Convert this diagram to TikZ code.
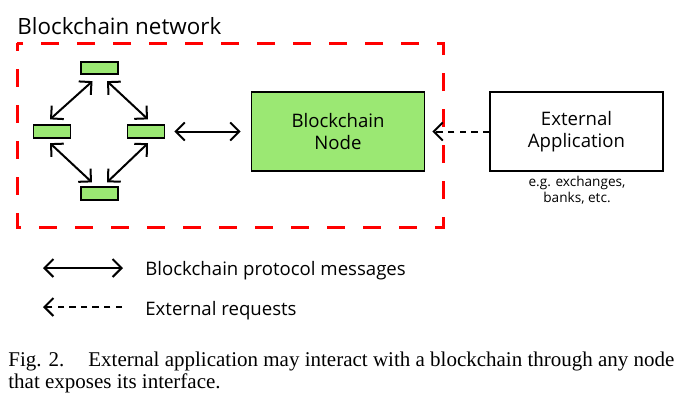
\documentclass[tikz,border=0pt]{standalone}
\usepackage{fontspec}
\setmainfont{Liberation Serif}
\newfontfamily\diagfont{Open Sans}
\usetikzlibrary{arrows.meta,calc}
\definecolor{chaingreen}{RGB}{155,232,115}
\definecolor{framered}{RGB}{255,0,0}
\tikzset{
  peer/.style={draw, fill=chaingreen, line width=0.85pt, minimum width=18.5pt, minimum height=6.3pt, inner sep=0pt},
  bigbox/.style={draw, line width=0.85pt, minimum width=86.5pt, minimum height=39.5pt, align=center, inner sep=0pt, font=\diagfont\fontsize{9.3}{11.2}\selectfont},
  netframe/.style={draw=framered, line width=1.5pt, dash pattern=on 9pt off 9pt, dash phase=5pt},
  msg/.style={line width=1pt, {Straight Barb[length=4.5pt,width=9pt]}-{Straight Barb[length=4.5pt,width=9pt]}},
  req/.style={line width=1pt, dash pattern=on 3.2pt off 2.6pt, -{Straight Barb[length=4.5pt,width=9pt]}},
  legendtext/.style={anchor=base west, inner sep=0pt, font=\diagfont\fontsize{9.3}{11}\selectfont},
  captionline/.style={anchor=base west, inner sep=0pt, font=\fontsize{10.5}{12.5}\selectfont}
}
\begin{document}
\begin{tikzpicture}[x=0.5pt, y=-0.5pt]
\useasboundingbox (0,0) rectangle (691,402);

% Network frame and its title
\node[anchor=base west, inner sep=0pt, font=\diagfont\fontsize{11.2}{13}\selectfont] (nettitle) at (17,34) {Blockchain network};
\draw[netframe] (17,43) rectangle (443,227);

% Peers of the network
\node[peer] (ptop) at (99.5,68) {};
\node[peer] (pleft) at (52,131.5) {};
\node[peer] (pright) at (146,131.5) {};
\node[peer] (pbottom) at (99.5,193.5) {};
\draw[msg] ($(ptop.south)+(-7,6)$) -- ($(pleft.north)+(-2,-5)$);
\draw[msg] ($(ptop.south)+(7.5,6)$) -- ($(pright.north)+(2,-5)$);
\draw[msg] ($(pleft.south)+(-2,4.5)$) -- ($(pbottom.north)+(-7.5,-4)$);
\draw[msg] ($(pright.south)+(2,4.5)$) -- ($(pbottom.north)+(7.5,-4)$);

% Node and external application
\node[bigbox, fill=chaingreen] (bnode) at (338,131.5) {Blockchain\\Node};
\node[bigbox] (extapp) at (576.5,131.5) {External\\Application};
\node[align=center, inner sep=0pt, font=\diagfont\fontsize{6.8}{7.8}\selectfont] (extnote) at (577,190) {e.g. exchanges,\\banks, etc.};
\draw[msg, shorten <=4.5pt, shorten >=5pt] (pright) -- (bnode);
\draw[req, shorten >=3.5pt] (extapp) -- (bnode);

% Legend
\coordinate (msgA) at (43,268);
\coordinate (msgB) at (123,268);
\draw[msg] (msgA) -- (msgB);
\node[legendtext] (msglabel) at (145,275) {Blockchain protocol messages};
\coordinate (reqA) at (43,307);
\coordinate (reqB) at (122,307);
\draw[req] (reqB) -- (reqA);
\node[legendtext] (reqlabel) at (145,315) {External requests};

% Caption
\node[captionline] (capone) at (8,366) {Fig. 2.\hspace{12pt}External application may interact with a blockchain through any node};
\node[captionline] (captwo) at (8,388) {that exposes its interface.};
\end{tikzpicture}
\end{document}
